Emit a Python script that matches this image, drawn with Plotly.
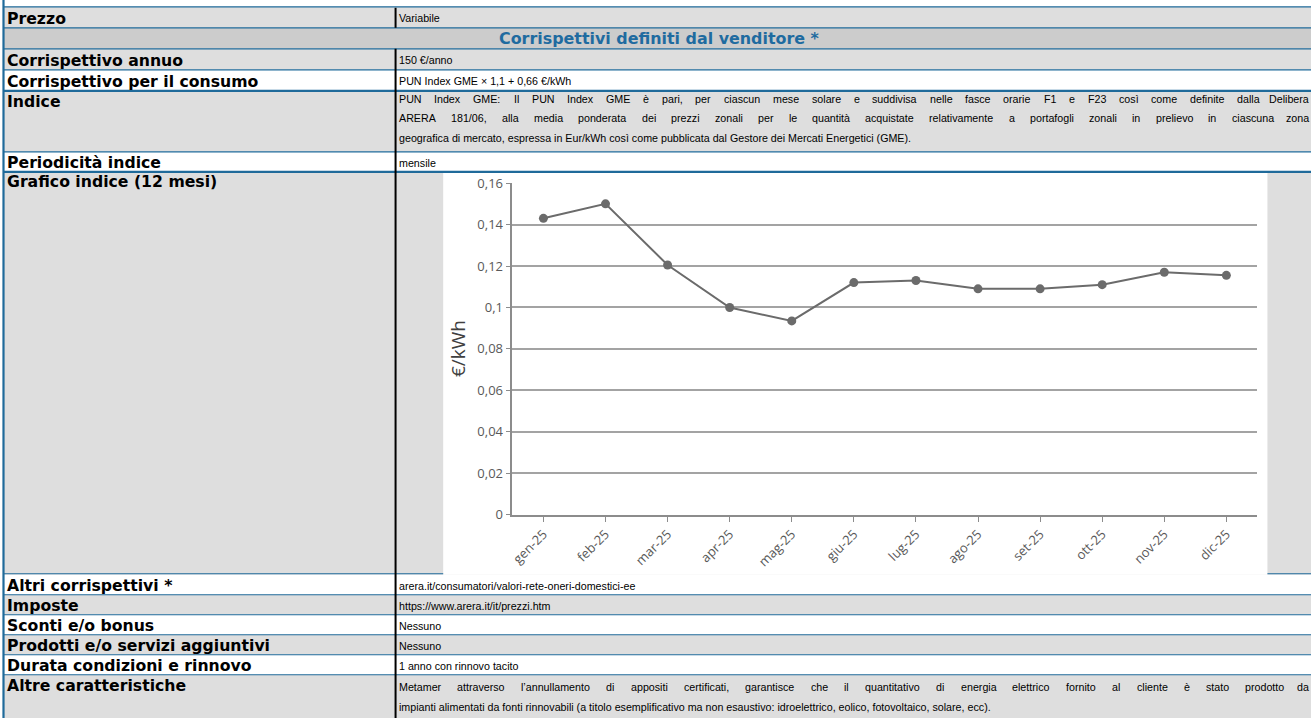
import plotly.graph_objects as go

# ---------------- data ----------------
months = ["gen-25", "feb-25", "mar-25", "apr-25", "mag-25", "giu-25",
          "lug-25", "ago-25", "set-25", "ott-25", "nov-25", "dic-25"]
pun_index = [0.143, 0.150, 0.1205, 0.100, 0.0935, 0.112,
             0.113, 0.109, 0.109, 0.111, 0.117, 0.1155]
y_tick_vals = [0, 0.02, 0.04, 0.06, 0.08, 0.10, 0.12, 0.14, 0.16]
y_tick_text = ["0", "0,02", "0,04", "0,06", "0,08", "0,1", "0,12", "0,14", "0,16"]
y_title = "€/kWh"

section_header = "Corrispettivi definiti dal venditore *"
row_labels = ["Prezzo", None, "Corrispettivo annuo", "Corrispettivo per il consumo",
              "Indice", "Periodicità indice", "Grafico indice (12 mesi)",
              "Altri corrispettivi *", "Imposte", "Sconti e/o bonus",
              "Prodotti e/o servizi aggiuntivi", "Durata condizioni e rinnovo",
              "Altre caratteristiche"]
row_values = [
    ["Variabile"],
    [],
    ["150 €/anno"],
    ["PUN Index GME × 1,1 + 0,66 €/kWh"],
    ["PUN Index GME: Il PUN Index GME è pari, per ciascun mese solare e suddivisa nelle fasce orarie F1 e F23 così come definite dalla Delibera",
     "ARERA 181/06, alla media ponderata dei prezzi zonali per le quantità acquistate relativamente a portafogli zonali in prelievo in ciascuna zona",
     "geografica di mercato, espressa in Eur/kWh così come pubblicata dal Gestore dei Mercati Energetici (GME)."],
    ["mensile"],
    [],
    ["arera.it/consumatori/valori-rete-oneri-domestici-ee"],
    ["https://www.arera.it/it/prezzi.htm"],
    ["Nessuno"],
    ["Nessuno"],
    ["1 anno con rinnovo tacito"],
    ["Metamer attraverso l’annullamento di appositi certificati, garantisce che il quantitativo di energia elettrico fornito al cliente è stato prodotto da",
     "impianti alimentati da fonti rinnovabili (a titolo esemplificativo ma non esaustivo: idroelettrico, eolico, fotovoltaico, solare, ecc)."],
]

# ---------------- layout geometry ----------------
# positions below are given in pixels of the target picture; px/py map them to paper
W, H = 1311, 718
SX, OX = 0.995, 6.0     # picture_x = OX + SX * page_x
SY, OY = 0.975, 9.2     # picture_y = OY + SY * page_y
def px(x): return ((x - OX) / SX) / W
def py(y): return 1 - ((y - OY) / SY) / H

GREY = "#DEDEDE"
DARK = "#CCCCCC"
WHITE = "#FFFFFF"
BLUE = "#1F6A9A"
row_tops = [7, 28, 49, 70, 91, 152, 172, 575, 595, 615, 635, 655, 675]
row_bots = [28, 49, 70, 91, 152, 172, 575, 595, 615, 635, 655, 675, 740]
row_fill = [GREY, DARK, GREY, WHITE, GREY, WHITE, GREY, WHITE, GREY, WHITE, GREY, WHITE, GREY]
label_y = [18.5, None, 60.5, 81.5, 102, 163, 182, 586, 606, 626, 646, 666, 686]
value_line_y = [[18.5], [], [60.5], [81.5], [99.5, 118.5, 138], [163], [],
                [586], [606], [626], [646], [666], [687, 707]]
justify = [[False], [], [False], [False], [True, True, False], [False], [],
           [False], [False], [False], [False], [False], [True, False]]

LABEL_FONT = dict(family="DejaVu Sans", size=15.7, color="#000000")
VALUE_SIZE = 10.7
VALUE_FONT = dict(family="Liberation Sans, Arial, sans-serif", size=VALUE_SIZE, color="#000000")
VX0, VX1 = 399, 1310

# Arial / Liberation Sans advance widths (1/1000 em)
AW = {' ': 278, '!': 278, '(': 333, ')': 333, '*': 389, '+': 584, ',': 278, '-': 333,
      '.': 278, '/': 278, ':': 278, ';': 278, '’': 222, '×': 584, '€': 556}
for c in "0123456789": AW[c] = 556
AW.update({'A': 667, 'B': 667, 'C': 722, 'D': 722, 'E': 667, 'F': 611, 'G': 778, 'H': 722,
           'I': 278, 'J': 500, 'K': 667, 'L': 556, 'M': 833, 'N': 722, 'O': 778, 'P': 667,
           'Q': 778, 'R': 722, 'S': 667, 'T': 611, 'U': 722, 'V': 667, 'W': 944, 'X': 667,
           'Y': 667, 'Z': 611, 'a': 556, 'b': 556, 'c': 500, 'd': 556, 'e': 556, 'f': 278,
           'g': 556, 'h': 556, 'i': 222, 'j': 222, 'k': 500, 'l': 222, 'm': 833, 'n': 556,
           'o': 556, 'p': 556, 'q': 556, 'r': 333, 's': 500, 't': 278, 'u': 556, 'v': 500,
           'w': 722, 'x': 500, 'y': 500, 'z': 500, 'à': 556, 'è': 556, 'é': 556, 'ì': 278,
           'ò': 556, 'ù': 556})

def tw(s):
    # width in picture pixels
    return sum(AW.get(c, 556) for c in s) / 1000 * VALUE_SIZE * SX

shapes = []
annotations = []

def hline(y, xa, xb, color, w):
    shapes.append(dict(type="line", xref="paper", yref="paper", x0=px(xa), x1=px(xb),
                       y0=py(y), y1=py(y), line=dict(color=color, width=w), layer="below"))

def vline(x, ya, yb, color, w):
    shapes.append(dict(type="line", xref="paper", yref="paper", x0=px(x), x1=px(x),
                       y0=py(yb), y1=py(ya), line=dict(color=color, width=w), layer="below"))

# row backgrounds
for t, b, f in zip(row_tops, row_bots, row_fill):
    shapes.append(dict(type="rect", xref="paper", yref="paper", x0=px(7), x1=px(W + 20),
                       y0=py(b), y1=py(t), fillcolor=f, line=dict(width=0), layer="below"))
# white chart picture area
CH_X0, CH_X1, CH_Y0, CH_Y1 = 445, 1267, 172, 575
shapes.append(dict(type="rect", xref="paper", yref="paper", x0=px(CH_X0), x1=px(CH_X1),
                   y0=py(CH_Y1), y1=py(CH_Y0), fillcolor=WHITE, line=dict(width=0), layer="below"))

# horizontal blue borders
border_y = [7, 28, 49, 70, 91, 152, 172, 595, 615, 635, 655, 675]
border_w = [1.2, 1.2, 1.2, 1.2, 2.2, 1.2, 2.2, 1.2, 1.2, 1.2, 1.2, 1.2]
for y, w in zip(border_y, border_w):
    hline(y, 6, W + 20, BLUE, w)
hline(574, 6, CH_X0, BLUE, 1.2)
hline(574, CH_X1, W + 20, BLUE, 1.2)
# left blue border
vline(6.5, -20, H + 30, BLUE, 2.2)
# black column separator
vline(397.5, 8, 28, "#000000", 2)
vline(397.5, 49, H + 30, "#000000", 2)

# labels
for lab, ly in zip(row_labels, label_y):
    if lab is None:
        continue
    annotations.append(dict(text="<b>%s</b>" % lab, xref="paper", yref="paper",
                            x=px(8), y=py(ly), xanchor="left", yanchor="middle",
                            showarrow=False, font=LABEL_FONT))
# section header
annotations.append(dict(text="<b>%s</b>" % section_header, xref="paper", yref="paper",
                        x=px(660), y=py(39), xanchor="center", yanchor="middle",
                        showarrow=False,
                        font=dict(family="DejaVu Sans", size=15.9, color="#1F6BA0")))

# values
for lines, ys, js in zip(row_values, value_line_y, justify):
    for line, y, j in zip(lines, ys, js):
        if not j:
            annotations.append(dict(text=line, xref="paper", yref="paper", x=px(VX0), y=py(y),
                                    xanchor="left", yanchor="middle", showarrow=False,
                                    font=VALUE_FONT))
            continue
        words = line.split(" ")
        widths = [tw(w) for w in words]
        gap = (VX1 - VX0 - sum(widths)) / (len(words) - 1)
        x = VX0
        for k, (w, wd) in enumerate(zip(words, widths)):
            last = k == len(words) - 1
            annotations.append(dict(text=w, xref="paper", yref="paper",
                                    x=px(VX1 if last else x), y=py(y),
                                    xanchor="right" if last else "left", yanchor="middle",
                                    showarrow=False, font=VALUE_FONT))
            x += wd + gap

# y axis title
annotations.append(dict(text=y_title, xref="paper", yref="paper", x=px(460), y=py(349),
                        xanchor="center", yanchor="middle", textangle=-90, showarrow=False,
                        font=dict(family="Open Sans", size=19, color="#404040")))

# ---------------- figure ----------------
LINE_C = "#6B6B6B"
AX_C = "#8C8C8C"
TICK_FONT = dict(family="Open Sans", size=13, color="#595959")

fig = go.Figure()
fig.add_trace(go.Scatter(x=months, y=pun_index, mode="lines+markers",
                         line=dict(color=LINE_C, width=2),
                         marker=dict(size=9, color=LINE_C),
                         hoverinfo="skip"))

fig.update_layout(
    width=W, height=H,
    margin=dict(l=0, r=0, t=0, b=0, pad=0),
    paper_bgcolor=WHITE,
    plot_bgcolor="rgba(0,0,0,0)",
    showlegend=False,
    shapes=shapes,
    annotations=annotations,
    xaxis=dict(domain=[px(514), px(1257)], type="category", range=[-0.5, 11.5],
               showline=True, linecolor=AX_C, linewidth=1.5, ticks="outside",
               ticklen=5, tickcolor=AX_C, tickwidth=1.2, tickangle=-45,
               tickfont=TICK_FONT, showgrid=False, zeroline=False, fixedrange=True),
    yaxis=dict(domain=[py(515), py(183.3)], range=[0, 0.16],
               tickvals=y_tick_vals, ticktext=y_tick_text,
               showgrid=True, gridcolor="#A3A3A3", gridwidth=1.5,
               showline=True, linecolor=AX_C, linewidth=1.5, ticks="outside",
               ticklen=5, tickcolor=AX_C, tickwidth=1.2,
               tickfont=TICK_FONT, zeroline=False, fixedrange=True),
)

fig.write_html("out.html", config={"displayModeBar": False},
               post_script="document.body.style.margin='0px';"
                           "document.body.style.overflow='hidden';"
                           "document.documentElement.style.overflow='hidden';")
